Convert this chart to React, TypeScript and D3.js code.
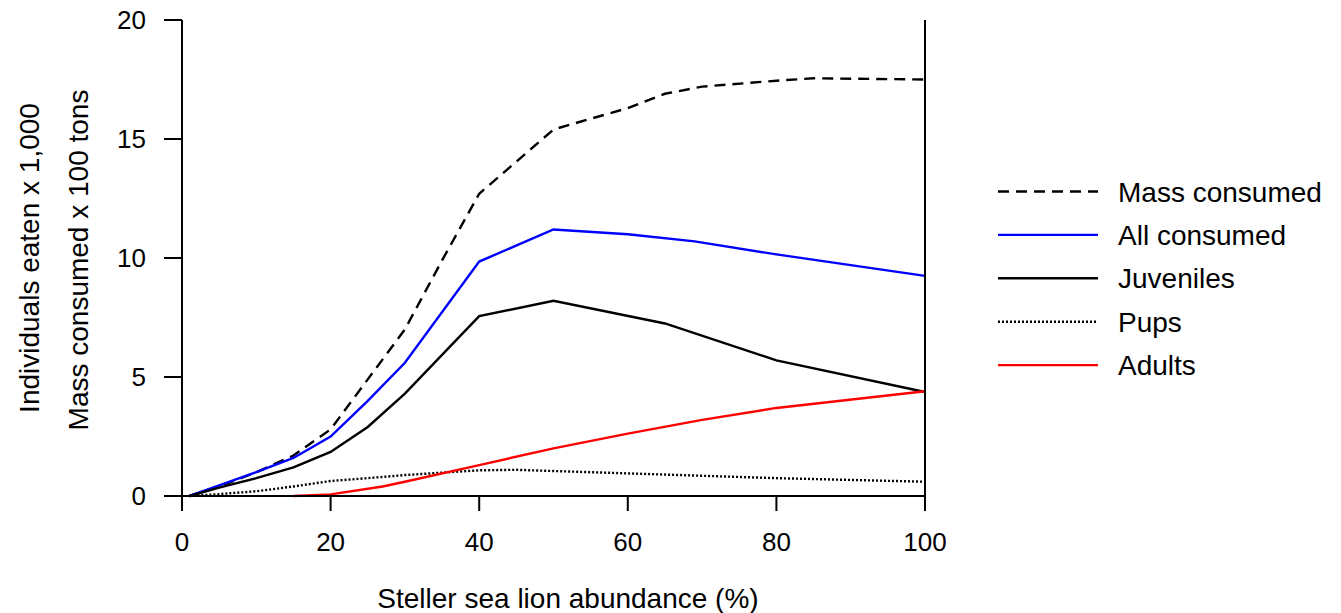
import React from 'react';
import * as d3 from 'd3';

// abundance (%) positions where each curve was read
const massX = [1, 5, 10, 15, 20, 25, 30, 35, 40, 50, 60, 65, 70, 80, 85, 100];
const massY = [0, 0.4, 1.0, 1.7, 2.8, 4.9, 7.0, 9.9, 12.7, 15.4, 16.3, 16.9, 17.2, 17.45, 17.55, 17.5];

const allX = [1, 5, 10, 15, 20, 25, 30, 40, 50, 60, 69, 80, 100];
const allY = [0, 0.45, 1.0, 1.6, 2.5, 4.0, 5.6, 9.85, 11.2, 11.0, 10.7, 10.15, 9.25];

const juvX = [1, 5, 10, 15, 20, 25, 30, 40, 50, 65, 80, 100];
const juvY = [0, 0.35, 0.75, 1.2, 1.85, 2.9, 4.3, 7.56, 8.2, 7.25, 5.7, 4.37];

const pupX = [1, 5, 10, 15, 20, 25, 30, 40, 45, 50, 60, 70, 80, 100];
const pupY = [0, 0.08, 0.2, 0.4, 0.63, 0.75, 0.88, 1.08, 1.1, 1.05, 0.95, 0.85, 0.75, 0.6];

const adultX = [15, 20, 27, 30, 40, 50, 60, 70, 80, 100];
const adultY = [0, 0.07, 0.4, 0.6, 1.3, 2.0, 2.62, 3.2, 3.7, 4.4];

const xTicks = [0, 20, 40, 60, 80, 100];
const yTicks = [0, 5, 10, 15, 20];

const series = [
  { name: 'Mass consumed', xs: massX, ys: massY, color: '#000', dash: '11,7' },
  { name: 'All consumed', xs: allX, ys: allY, color: '#0000ff', dash: null },
  { name: 'Juveniles', xs: juvX, ys: juvY, color: '#000', dash: null },
  { name: 'Pups', xs: pupX, ys: pupY, color: '#000', dash: '2,2' },
  { name: 'Adults', xs: adultX, ys: adultY, color: '#ff0000', dash: null },
];

const App = () => {
  const width = 1341;
  const height = 613;
  const left = 182, right = 925, top = 20, bottom = 496;

  const x = d3.scaleLinear().domain([0, 100]).range([left, right]);
  const y = d3.scaleLinear().domain([0, 20]).range([bottom, top]);

  const line = d3.line<[number, number]>()
    .x(d => x(d[0]))
    .y(d => y(d[1]));

  const font = 'Arial, "Liberation Sans", sans-serif';

  return (
    <svg width={width} height={height} style={{ position: 'absolute', left: 0, top: 0 }}
      fontFamily={font}>
      <rect width={width} height={height} fill="#fff" />
      {series.map(s => (
        <path key={s.name}
          d={line(s.xs.map((v, i) => [v, s.ys[i]] as [number, number])) || ''}
          fill="none" stroke={s.color} strokeWidth={2.4}
          strokeDasharray={s.dash || undefined} />
      ))}

      {/* axes */}
      <g stroke="#000" strokeWidth={2} fill="none">
        <line x1={left} x2={left} y1={top} y2={bottom} />
        <line x1={left} x2={right} y1={bottom} y2={bottom} />
        <line x1={right} x2={right} y1={top} y2={bottom} />
        {yTicks.map(t => (
          <line key={'y' + t} x1={left - 18} x2={left} y1={y(t)} y2={y(t)} />
        ))}
        {xTicks.map(t => (
          <line key={'x' + t} x1={x(t)} x2={x(t)} y1={bottom} y2={bottom + 15} />
        ))}
      </g>
      {yTicks.map(t => (
        <text key={'yl' + t} x={146} y={y(t)} dy="0.36em" textAnchor="end" fontSize={26}>{t}</text>
      ))}
      {xTicks.map(t => (
        <text key={'xl' + t} x={x(t)} y={551} textAnchor="middle" fontSize={26}>{t}</text>
      ))}

      <text x={568} y={608} textAnchor="middle" fontSize={28}>Steller sea lion abundance (%)</text>
      <text transform="translate(39,258) rotate(-90)" textAnchor="middle" fontSize={28}>Individuals eaten x 1,000</text>
      <text transform="translate(88,260) rotate(-90)" textAnchor="middle" fontSize={28}>Mass consumed x 100 tons</text>

      {/* legend */}
      {series.map((s, i) => {
        const ly = 191.5 + i * 43.4;
        return (
          <g key={'lg' + s.name}>
            <line x1={998} x2={1098} y1={ly} y2={ly} stroke={s.color} strokeWidth={2.4}
              strokeDasharray={s.dash || undefined} />
            <text x={1118} y={ly} dy="0.36em" fontSize={28}>{s.name}</text>
          </g>
        );
      })}
    </svg>
  );
};

export default App;
